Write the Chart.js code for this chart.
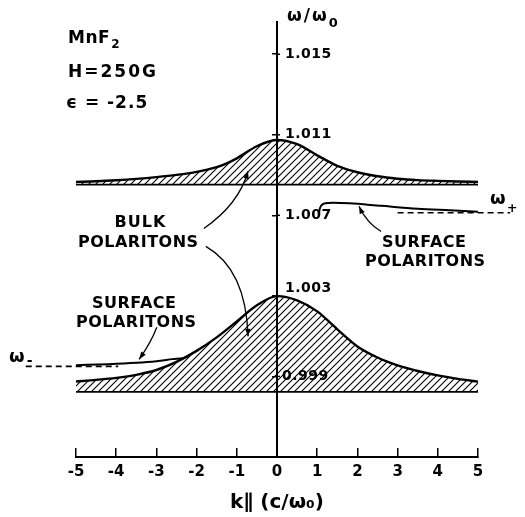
<!DOCTYPE html>
<html>
<head>
<meta charset="utf-8">
<script src="https://cdn.jsdelivr.net/npm/chart.js@4.4.0/dist/chart.umd.min.js"></script>
<style>
  html, body { margin: 0; padding: 0; background: #fff; }
  #wrap { width: 525px; height: 517px; }
</style>
</head>
<body>
<div id="wrap"><canvas id="dispersion"></canvas></div>
<script>
const FONT = '"DejaVu Sans", "Liberation Sans", sans-serif';

// axes
const xTicks = [-5, -4, -3, -2, -1, 0, 1, 2, 3, 4, 5];
const yTicks = [0.999, 1.003, 1.007, 1.011, 1.015];
const yTickLabels = ['0.999', '1.003', '1.007', '1.011', '1.015'];

// upper bulk polariton band
const upperK = [-5, -4.5, -4, -3.5, -3, -2.5, -2, -1.5, -1.25, -1, -0.5, 0, 0.5, 1, 1.5, 2, 2.5, 3, 3.5, 4, 4.5, 5];
const upperTop = [1.00866, 1.00869, 1.00874, 1.00881, 1.00890, 1.00901, 1.00916, 1.00939, 1.00958, 1.00983, 1.01043,
                  1.01074, 1.01053, 1.00998, 1.00946, 1.00914, 1.00894, 1.00882, 1.00875, 1.00871, 1.00868, 1.00866];
const upperBaseK = [-5, 5];
const upperBase = [1.00852, 1.00852];

// lower bulk polariton band
const lowerK = [-5, -4.5, -4, -3.5, -3, -2.5, -2, -1.5, -1, -0.5, 0, 0.5, 1, 1.5, 2, 2.5, 3, 3.5, 4, 4.5, 5];
const lowerTop = [0.99875, 0.99883, 0.99893, 0.99908, 0.99932, 0.99972, 1.00027, 1.00094, 1.00173, 1.00253, 1.00299,
                  1.00278, 1.00223, 1.00134, 1.00049, 0.99994, 0.99955, 0.99927, 0.99905, 0.99888, 0.99874];
const lowerBaseK = [-5, 5];
const lowerBase = [0.99823, 0.99823];

// surface polaritons
const surfPlusK = [1.04, 1.06, 1.1, 1.2, 1.4, 1.8, 2.6, 3.5, 4.3, 5];
const surfPlus = [1.00703, 1.00730, 1.00748, 1.00760, 1.00763, 1.00760, 1.00747, 1.00733, 1.00725, 1.00718];
const surfMinusK = [-5, -4.2, -3.5, -3, -2.6, -2.3, -2.15];
const surfMinus = [0.99956, 0.99961, 0.99968, 0.99976, 0.99986, 0.99993, 1.00007];

// asymptotes omega+ / omega-
const omegaPlusK = [3.0, 5.8];
const omegaPlus = [1.00713, 1.00713];
const omegaMinusK = [-6.25, -3.95];
const omegaMinus = [0.99950, 0.99950];

// label arrows, in data units
const arrows = [
  { from: [-1.82, 1.00635], via: [-0.95, 1.00755], to: [-0.72, 1.00919] },
  { from: [-1.77, 1.00546], via: [-0.77, 1.00432], to: [-0.72, 1.00099] },
  { from: [2.59, 1.00620], via: [2.24, 1.00660], to: [2.04, 1.00745] },
  { from: [-2.99, 1.00144], via: [-3.13, 1.00069], to: [-3.43, 0.99985] }
];

function pts(xs, ys) {
  return xs.map((x, i) => ({ x: x, y: ys[i] }));
}

// diagonal hatch
const pc = document.createElement('canvas');
pc.width = 7; pc.height = 7;
const pctx = pc.getContext('2d');
pctx.strokeStyle = '#000';
pctx.lineWidth = 1.1;
pctx.beginPath();
pctx.moveTo(0, 7); pctx.lineTo(7, 0);
pctx.moveTo(-1, 1); pctx.lineTo(1, -1);
pctx.moveTo(6, 8); pctx.lineTo(8, 6);
pctx.stroke();
const hatch = pctx.createPattern(pc, 'repeat');

function text(ctx, str, x, y, size, spacing, center) {
  ctx.font = 'bold ' + size + 'px ' + FONT;
  ctx.letterSpacing = spacing + 'px';
  let w = ctx.measureText(str).width;
  ctx.fillText(str, center ? x - w / 2 + spacing / 2 : x, y);
  return (center ? x + w / 2 : x + w);
}

const annotate = {
  id: 'annotate',
  afterDraw(chart) {
    const ctx = chart.ctx;
    const xs = chart.scales.x, ys = chart.scales.y;
    const x0 = xs.getPixelForValue(0);
    ctx.save();
    ctx.fillStyle = '#000';
    ctx.strokeStyle = '#000';

    // y tick labels sit right of the axis, small cross ticks
    ctx.lineWidth = 1.5;
    ctx.textBaseline = 'middle';
    yTicks.forEach((v, i) => {
      const py = ys.getPixelForValue(v);
      ctx.beginPath();
      ctx.moveTo(x0, py);
      ctx.lineTo(x0 + 3, py);
      ctx.stroke();
      const dy = v === 1.003 ? -8 : 0;
      text(ctx, yTickLabels[i], x0 + (v === 0.999 ? 5 : 8), py + dy, 14, 0.5, false);
    });

    ctx.textBaseline = 'alphabetic';
    let e = text(ctx, 'ω/ω', 287, 21, 17, 2, false);
    text(ctx, '0', e, 27, 13, 0, false);

    e = text(ctx, 'MnF', 68, 43, 17, 0.5, false);
    text(ctx, '2', e + 1, 48, 12, 0, false);
    text(ctx, 'H=250G', 68, 77, 17, 2, false);
    text(ctx, 'ϵ = -2.5', 66, 108, 17, 1, false);

    text(ctx, 'BULK', 140, 227, 16, 1, true);
    text(ctx, 'POLARITONS', 138, 247, 16, 0.5, true);
    text(ctx, 'SURFACE', 424, 247, 16, 0.5, true);
    text(ctx, 'POLARITONS', 425, 266, 16, 0.5, true);
    text(ctx, 'SURFACE', 134, 308, 16, 0.5, true);
    text(ctx, 'POLARITONS', 136, 327, 16, 0.5, true);

    e = text(ctx, 'ω', 9, 362, 18, 0, false);
    text(ctx, '-', e + 2, 365, 14, 0, false);
    e = text(ctx, 'ω', 490, 204, 18, 0, false);
    text(ctx, '+', e + 1, 212, 13, 0, false);

    // arrows
    ctx.lineWidth = 1.3;
    arrows.forEach(a => {
      const p0 = [xs.getPixelForValue(a.from[0]), ys.getPixelForValue(a.from[1])];
      const c = [xs.getPixelForValue(a.via[0]), ys.getPixelForValue(a.via[1])];
      const p2 = [xs.getPixelForValue(a.to[0]), ys.getPixelForValue(a.to[1])];
      ctx.beginPath();
      ctx.moveTo(p0[0], p0[1]);
      ctx.quadraticCurveTo(c[0], c[1], p2[0], p2[1]);
      ctx.stroke();
      const ang = Math.atan2(p2[1] - c[1], p2[0] - c[0]);
      const L = 8, W = 0.35;
      ctx.beginPath();
      ctx.moveTo(p2[0], p2[1]);
      ctx.lineTo(p2[0] - L * Math.cos(ang - W), p2[1] - L * Math.sin(ang - W));
      ctx.lineTo(p2[0] - L * Math.cos(ang + W), p2[1] - L * Math.sin(ang + W));
      ctx.closePath();
      ctx.fill();
    });
    ctx.restore();
  }
};

new Chart(document.getElementById('dispersion'), {
  type: 'line',
  data: {
    datasets: [
      { data: pts(upperK, upperTop), borderColor: '#000', borderWidth: 2.4, fill: '+1', backgroundColor: hatch },
      { data: pts(upperBaseK, upperBase), borderColor: '#000', borderWidth: 1.8, fill: false },
      { data: pts(lowerK, lowerTop), borderColor: '#000', borderWidth: 2.4, fill: '+1', backgroundColor: hatch },
      { data: pts(lowerBaseK, lowerBase), borderColor: '#000', borderWidth: 1.8, fill: false },
      { data: pts(surfPlusK, surfPlus), borderColor: '#000', borderWidth: 2, fill: false },
      { data: pts(surfMinusK, surfMinus), borderColor: '#000', borderWidth: 2, fill: false },
      { data: pts(omegaPlusK, omegaPlus), borderColor: '#000', borderWidth: 1.6, borderDash: [6, 4], fill: false, clip: false },
      { data: pts(omegaMinusK, omegaMinus), borderColor: '#000', borderWidth: 1.6, borderDash: [6, 4], fill: false, clip: false }
    ]
  },
  options: {
    responsive: true,
    maintainAspectRatio: false,
    animation: false,
    events: [],
    layout: { padding: { left: 76, right: 47, top: 22, bottom: 0 } },
    elements: {
      point: { radius: 0 },
      line: { cubicInterpolationMode: 'monotone' }
    },
    plugins: {
      legend: { display: false },
      tooltip: { enabled: false }
    },
    scales: {
      x: {
        type: 'linear',
        min: -5,
        max: 5,
        afterBuildTicks: s => { s.ticks = xTicks.map(v => ({ value: v })); },
        afterFit: s => { s.height = 60; },
        grid: { drawOnChartArea: false, tickLength: -9, color: '#000', lineWidth: 1.5 },
        border: { color: '#000', width: 2 },
        ticks: { color: '#000', padding: 15, font: { family: FONT, size: 15, weight: 'bold' }, callback: v => String(v) },
        title: { display: true, text: 'k∥ (c/ω₀)', color: '#000', font: { family: FONT, size: 20, weight: 'bold' }, padding: { top: 0, bottom: 2 } }
      },
      y: {
        type: 'linear',
        min: 0.995,
        max: 1.0166,
        position: { x: 0 },
        afterBuildTicks: s => { s.ticks = yTicks.map(v => ({ value: v })); },
        grid: { drawOnChartArea: false, tickLength: 4, color: '#000', lineWidth: 1.5 },
        border: { color: '#000', width: 2 },
        ticks: { display: false }
      }
    }
  },
  plugins: [annotate]
});
</script>
</body>
</html>
